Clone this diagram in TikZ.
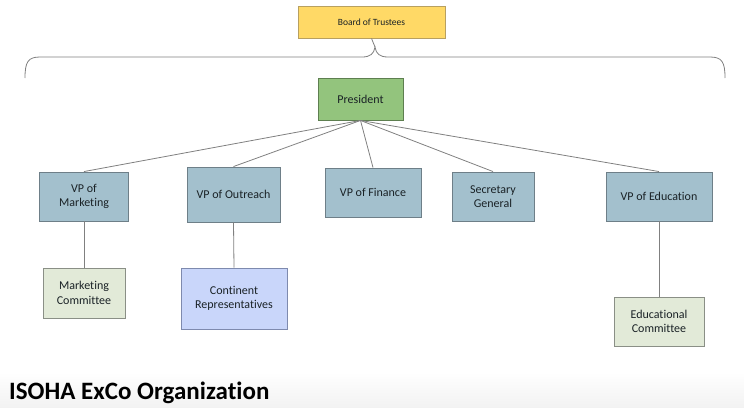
\documentclass[tikz,border=0pt]{standalone}
\usepackage{fontspec}
\setmainfont{Carlito}[Ligatures={NoCommon}]
\definecolor{vpfill}{HTML}{A3C0CD}
\definecolor{vpdraw}{HTML}{6E7F88}
\definecolor{boardfill}{HTML}{FFD966}
\definecolor{boarddraw}{HTML}{B8A060}
\definecolor{presfill}{HTML}{93C47D}
\definecolor{presdraw}{HTML}{5E7F50}
\definecolor{comfill}{HTML}{E2EAD8}
\definecolor{comdraw}{HTML}{8A8F86}
\definecolor{contfill}{HTML}{C9D6FA}
\definecolor{contdraw}{HTML}{7E8AAE}
\definecolor{linegray}{HTML}{808080}
\definecolor{txt}{HTML}{1A2226}
\begin{document}
\begin{tikzpicture}[x=1pt,y=-1pt,
  box/.style={draw, line width=0.9pt, align=center, inner sep=1pt, text=txt, font=\fontsize{12}{14.5}\selectfont},
  vpbox/.style={box, fill=vpfill, draw=vpdraw},
  combox/.style={box, fill=comfill, draw=comdraw},
  link/.style={draw=linegray, line width=0.8pt}]
\useasboundingbox (0,0) rectangle (744,407);
\shade[top color=white, bottom color=black!5] (0,372) rectangle (744,407);
% top
\node[box, fill=boardfill, draw=boarddraw, minimum width=147pt, minimum height=32pt, font=\fontsize{9.5}{11}\selectfont] (board) at (371.5,22) {Board of Trustees};
\coordinate (tip) at (375,47);
\draw[link] (25,78) .. controls (25,62) and (28,57) .. (40,57) -- (362,57) .. controls (370,57) and (374,54) .. (tip)
  .. controls (376,54) and (380,57) .. (388,57) -- (710,57) .. controls (722,57) and (725,62) .. (725,78);
\draw[link] (board.south) -- (tip);
\node[box, fill=presfill, draw=presdraw, minimum width=85pt, minimum height=42pt] (pres) at (360.5,99) {President};
% VPs
\node[vpbox, minimum width=89pt, minimum height=49pt] (mkt) at (84,196.5) {VP of\\Marketing};
\node[vpbox, minimum width=93pt, minimum height=55pt] (out) at (233.5,194.5) {VP of Outreach};
\node[vpbox, minimum width=96pt, minimum height=49pt] (fin) at (373,192.5) {VP of Finance};
\node[vpbox, minimum width=82pt, minimum height=49pt] (sec) at (493,196.5) {Secretary\\General};
\node[vpbox, minimum width=106pt, minimum height=49pt] (edu) at (659,196.5) {VP of Education};
% committees
\node[combox, minimum width=82pt, minimum height=50pt] (mktcom) at (84,293) {Marketing\\Committee};
\node[box, fill=contfill, draw=contdraw, minimum width=106pt, minimum height=61pt] (cont) at (234,298.5) {Continent\\Representatives};
\node[combox, minimum width=90pt, minimum height=49pt] (educom) at (659,321.5) {Educational\\Committee};
% links
\foreach \n in {mkt,out,fin,sec,edu} \draw[link] (pres.south) -- (\n.north);
\draw[link] (mkt.south) -- (mktcom.north);
\draw[link] (out.south) -- (cont.north);
\draw[link] (edu.south) -- (educom.north);
% title
\node[anchor=base west, inner sep=0pt, font=\fontsize{25}{28}\selectfont\bfseries, text=black] (title) at (9,399) {ISOHA ExCo Organization};
\end{tikzpicture}
\end{document}
